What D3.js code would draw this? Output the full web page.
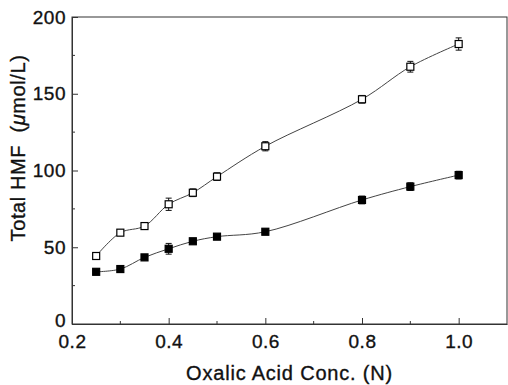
<!DOCTYPE html>
<html>
<head>
<meta charset="utf-8">
<script src="https://cdn.jsdelivr.net/npm/d3@7"></script>
<style>
  body { margin: 0; background: #fff; }
  text { font-family: "Liberation Sans", Arial, sans-serif; fill: #111; stroke: #111; stroke-width: 0.35px; }
</style>
</head>
<body>
<div id="chart"></div>
<script>
// data
let conc = [0.25, 0.30, 0.35, 0.40, 0.45, 0.50, 0.60, 0.80, 0.90, 1.00];
let openVals = [44.3, 59.5, 63.8, 78, 85.5, 96, 115.8, 146.4, 167.6, 182.4];
let openErr = [1.2, 1.2, 1.2, 4, 2.5, 2.5, 3, 2.5, 3.5, 4];
let filledVals = [34, 35.8, 43.4, 49, 53.9, 56.9, 60.1, 80.8, 89.5, 97];
let filledErr = [1, 1, 1, 3.5, 1.5, 1, 1, 2.5, 2.5, 2.5];
let xTicks = [0.2, 0.4, 0.6, 0.8, 1.0];
let xMinor = [0.3, 0.5, 0.7, 0.9];
let yTicks = [0, 50, 100, 150, 200];
let yMinor = [25, 75, 125, 175];

let margin = {top: 17, right: 1, bottom: 61, left: 72},
    width = 508 - margin.left - margin.right,
    height = 385 - margin.top - margin.bottom;

let svg = d3.select("#chart")
    .append("svg")
    .attr("width", 508)
    .attr("height", 385)
    .append("g")
    .attr("transform", "translate(" + margin.left + "," + margin.top + ")");

let x = d3.scaleLinear().domain([0.2, 1.1]).range([0, width]);
let y = d3.scaleLinear().domain([0, 200]).range([height, 0]);

// frame
svg.append("rect")
    .attr("width", width).attr("height", height)
    .attr("fill", "none").attr("stroke", "#333").attr("stroke-width", 1);

// X axis (ticks inward)
let xAxis = svg.append("g")
    .attr("transform", "translate(0," + height + ")")
    .call(d3.axisBottom(x).tickValues(xTicks).tickSizeInner(-6).tickSizeOuter(0)
        .tickPadding(11).tickFormat(d3.format(".1f")));
xAxis.append("g").selectAll("line").data(xMinor).enter().append("line")
    .attr("x1", d => x(d)).attr("x2", d => x(d)).attr("y1", 0).attr("y2", -3)
    .attr("stroke", "#333");
xAxis.select(".domain").attr("stroke", "#333");
xAxis.selectAll(".tick line").attr("stroke", "#333");
xAxis.selectAll(".tick text").style("font-size", "19px").style("letter-spacing", "0.5px");

// Y axis
let yAxis = svg.append("g")
    .call(d3.axisLeft(y).tickValues(yTicks).tickSizeInner(-6).tickSizeOuter(0)
        .tickPadding(12));
yAxis.append("g").selectAll("line").data(yMinor).enter().append("line")
    .attr("y1", d => y(d)).attr("y2", d => y(d)).attr("x1", 0).attr("x2", 3)
    .attr("stroke", "#333");
yAxis.select(".domain").attr("stroke", "#333");
yAxis.selectAll(".tick line").attr("stroke", "#333");
yAxis.selectAll(".tick text").style("font-size", "19px").style("letter-spacing", "0.5px").attr("x", -6);
// the zero label sits a little higher so it clears the 0.2 below it
yAxis.selectAll(".tick text").filter(d => d === 0).attr("dy", "0.12em");

// titles
svg.append("text")
    .attr("x", width / 2).attr("y", height + 56)
    .attr("text-anchor", "middle")
    .style("font-size", "20px")
    .style("letter-spacing", "0.8px")
    .text("Oxalic Acid Conc. (N)");

let yt = svg.append("text")
    .attr("transform", "translate(-47," + (131) + ") rotate(-90)")
    .attr("text-anchor", "middle")
    .style("font-size", "20px")
    .style("letter-spacing", "0.6px")
    .attr("xml:space", "preserve");
yt.append("tspan").text("Total HMF  (");
yt.append("tspan").style("font-style", "italic").text("\u03bc");
yt.append("tspan").text("mol/L)");

let line = d3.line().curve(d3.curveCatmullRom.alpha(0.5))
    .x(d => x(d[0])).y(d => y(d[1]));

function drawSeries(vals, errs, filled) {
    let pts = conc.map((c, i) => [c, vals[i], errs[i]]);
    svg.append("path")
        .datum(pts)
        .attr("d", line)
        .attr("fill", "none")
        .attr("stroke", "#444")
        .attr("stroke-width", 1);

    let g = svg.append("g");
    let eb = g.selectAll("g.eb").data(pts).enter().append("g");
    eb.append("line")
        .attr("x1", d => x(d[0])).attr("x2", d => x(d[0]))
        .attr("y1", d => y(d[1] - d[2])).attr("y2", d => y(d[1] + d[2]))
        .attr("stroke", "#111");
    eb.append("line")
        .attr("x1", d => x(d[0]) - 3).attr("x2", d => x(d[0]) + 3)
        .attr("y1", d => y(d[1] + d[2])).attr("y2", d => y(d[1] + d[2]))
        .attr("stroke", "#111");
    eb.append("line")
        .attr("x1", d => x(d[0]) - 3).attr("x2", d => x(d[0]) + 3)
        .attr("y1", d => y(d[1] - d[2])).attr("y2", d => y(d[1] - d[2]))
        .attr("stroke", "#111");

    g.selectAll("rect").data(pts).enter().append("rect")
        .attr("x", d => x(d[0]) - 3.5)
        .attr("y", d => y(d[1]) - 3.5)
        .attr("width", 7).attr("height", 7)
        .attr("fill", filled ? "#000" : "#fff")
        .attr("stroke", "#000")
        .attr("stroke-width", 1.2);
}

drawSeries(openVals, openErr, false);
drawSeries(filledVals, filledErr, true);
</script>
</body>
</html>
